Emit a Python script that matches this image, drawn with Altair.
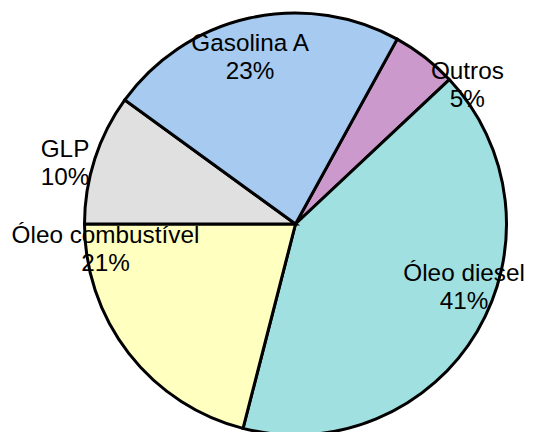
import math
import altair as alt
import pandas as pd

categories = ["Outros", "Óleo diesel", "Óleo combustível", "GLP", "Gasolina A"]
values = [5, 41, 21, 10, 23]
colors = ["#CC99CC", "#A0E0E0", "#FFFFC0", "#E0E0E0", "#A6CAF0"]

# styling: label placement (radius in px, angular nudge in degrees from slice middle)
label_style = {
    "Outros": (225, 12.0),
    "Óleo diesel": (178, -11.9),
    "Óleo combustível": (191, 32.1),
    "GLP": (240, -1.8),
    "Gasolina A": (179, -2.1),
}

total = sum(values)
start = math.radians(270 - sum(values[:3]) / total * 360)

df = pd.DataFrame({"cat": categories, "value": values, "order": list(range(len(categories)))})
cum = df["value"].cumsum()
mid = start + (cum - df["value"] / 2) / total * 2 * math.pi
df["label"] = [f"{c}\n{v}%" for c, v in zip(categories, values)]
df["lt"] = [m + math.radians(label_style[c][1]) for m, c in zip(mid, categories)]
df["lr"] = [label_style[c][0] for c in categories]

base = alt.Chart(df)

pie = base.mark_arc(radius=211, stroke="black", strokeWidth=3).encode(
    theta=alt.Theta("value:Q", stack=True,
                    scale=alt.Scale(range=[start, start + 2 * math.pi])),
    order=alt.Order("order:Q", sort="ascending"),
    color=alt.Color("cat:N", scale=alt.Scale(domain=categories, range=colors), legend=None),
)

labels = base.mark_text(
    lineBreak="\n", font="Liberation Sans", fontSize=24.3, lineHeight=28,
    align="center", baseline="alphabetic", color="black",
).encode(
    theta=alt.Theta("lt:Q", scale=None),
    radius=alt.Radius("lr:Q", scale=None),
    text="label:N",
)

chart = alt.layer(pie, labels).resolve_scale(theta="independent").properties(
    width=461, height=416,
    padding={"left": 57, "top": 8, "right": 0, "bottom": 0},
    autosize=alt.AutoSizeParams(type="none"),
    background="white",
).configure_view(stroke=None)

chart.save("out.html", embed_options={"renderer": "svg", "actions": False})
